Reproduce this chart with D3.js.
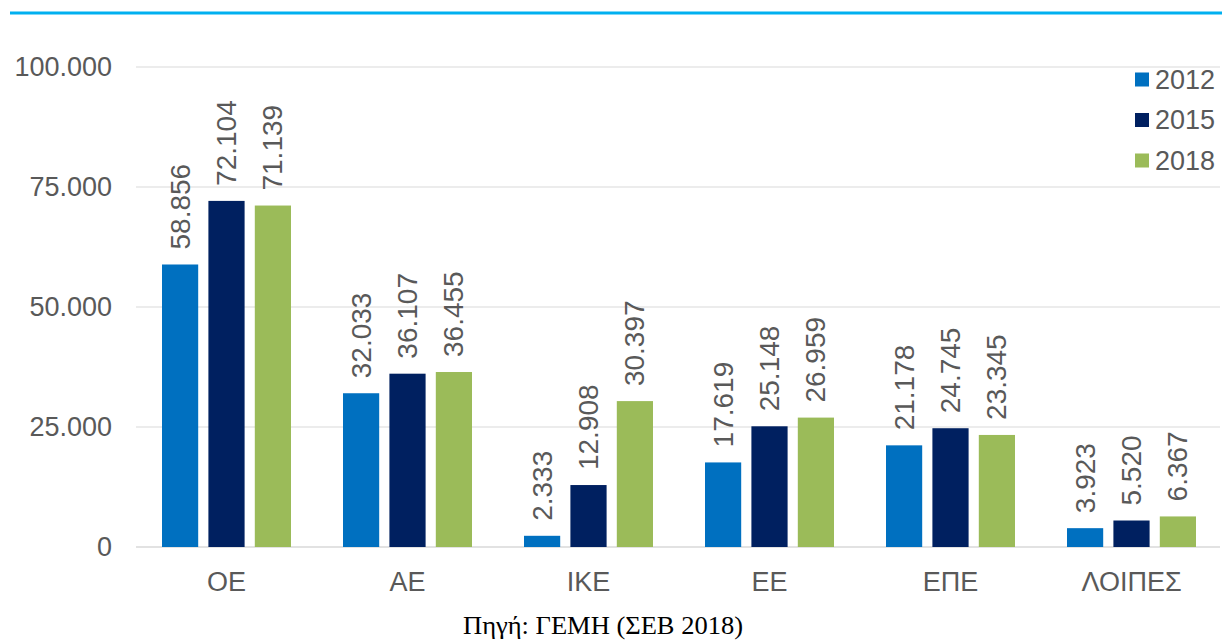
<!DOCTYPE html>
<html>
<head>
<meta charset="utf-8">
<script src="https://cdn.jsdelivr.net/npm/d3@7"></script>
<style>
  body { margin: 0; background: #fff; }
  svg { display: block; }
</style>
</head>
<body>
<div id="chart"></div>
<script>
// Data
const categories = ["ΟΕ", "ΑΕ", "ΙΚΕ", "ΕΕ", "ΕΠΕ", "ΛΟΙΠΕΣ"];
const years = ["2012", "2015", "2018"];
const values2012 = [58856, 32033, 2333, 17619, 21178, 3923];
const values2015 = [72104, 36107, 12908, 25148, 24745, 5520];
const values2018 = [71139, 36455, 30397, 26959, 23345, 6367];
const yTicks = [0, 25000, 50000, 75000, 100000];
const sourceNote = "Πηγή: ΓΕΜΗ (ΣΕΒ 2018)";

const seriesByYear = { "2012": values2012, "2015": values2015, "2018": values2018 };
const colors = { "2012": "#0070c0", "2015": "#002060", "2018": "#9bbb59" };

const width = 1222, height = 641;
const plot = { left: 136, right: 1222, top: 67, bottom: 547 };
const textColor = "#595959";
const font = "'Liberation Sans', Arial, sans-serif";

const greekNum = d3.formatLocale({ decimal: ",", thousands: ".", grouping: [3], currency: ["", "€"] }).format(",d");

const svg = d3.select("#chart").append("svg")
    .attr("width", width)
    .attr("height", height)
    .style("font-family", font);

// Top rule
svg.append("line")
    .attr("x1", 10).attr("x2", width)
    .attr("y1", 13).attr("y2", 13)
    .attr("stroke", "#00b0f0")
    .attr("stroke-width", 3);

// Scales
const x0 = d3.scaleBand().domain(categories).range([plot.left, plot.right]);
const x1 = d3.scaleBand().domain(years)
    .range([26, x0.bandwidth() - 26])
    .paddingInner(0.22);
const y = d3.scaleLinear().domain([0, 100000]).range([plot.bottom, plot.top]);

// Gridlines
svg.append("g")
    .selectAll("line")
    .data(yTicks)
    .join("line")
        .attr("x1", plot.left).attr("x2", plot.right - 2)
        .attr("y1", d => y(d)).attr("y2", d => y(d))
        .attr("stroke", "#d9d9d9")
        .attr("stroke-width", d => d === 0 ? 1.5 : 1);

// Y axis labels
const yAxis = svg.append("g")
    .attr("transform", `translate(${plot.left - 24},0)`)
    .call(d3.axisLeft(y).tickValues(yTicks).tickFormat(greekNum).tickSize(0).tickPadding(0));
yAxis.select(".domain").remove();
yAxis.selectAll("text")
    .attr("fill", textColor)
    .style("font-size", "27px")
    .style("font-family", font);

// X axis labels
const xAxis = svg.append("g")
    .attr("transform", `translate(0,${plot.bottom})`)
    .call(d3.axisBottom(x0).tickSize(0).tickPadding(25));
xAxis.select(".domain").remove();
xAxis.selectAll("text")
    .attr("fill", textColor)
    .style("font-size", "27px")
    .style("font-family", font);

// Bars + labels
const rows = categories.map((c, i) => ({
    cat: c,
    items: years.map(yr => ({ year: yr, value: seriesByYear[yr][i] }))
}));

const groups = svg.append("g")
    .selectAll("g")
    .data(rows)
    .join("g")
        .attr("transform", d => `translate(${x0(d.cat)},0)`);

groups.selectAll("rect")
    .data(d => d.items)
    .join("rect")
        .attr("x", d => x1(d.year))
        .attr("y", d => y(d.value))
        .attr("width", x1.bandwidth())
        .attr("height", d => y(0) - y(d.value))
        .attr("fill", d => colors[d.year]);

groups.selectAll("text.val")
    .data(d => d.items)
    .join("text")
        .attr("class", "val")
        .attr("transform", d => `translate(${x1(d.year) + x1.bandwidth() / 2},${y(d.value) - 15}) rotate(-90)`)
        .attr("dominant-baseline", "central")
        .attr("fill", textColor)
        .style("font-size", "28px")
        .text(d => greekNum(d.value));

// Legend
const legend = svg.append("g")
    .selectAll("g")
    .data(years)
    .join("g")
        .attr("transform", (d, i) => `translate(1135,${79.5 + i * 40.5})`);
legend.append("rect")
    .attr("x", 0).attr("y", -7)
    .attr("width", 14).attr("height", 14)
    .attr("fill", d => colors[d]);
legend.append("text")
    .attr("x", 20).attr("y", 0)
    .attr("dominant-baseline", "central")
    .attr("fill", textColor)
    .style("font-size", "27px")
    .text(d => d);

// Source note
svg.append("text")
    .attr("x", 463).attr("y", 634)
    .attr("textLength", 280)
    .attr("lengthAdjust", "spacingAndGlyphs")
    .attr("fill", "#000")
    .style("font-family", "'Liberation Serif', 'Times New Roman', serif")
    .style("font-size", "25px")
    .text(sourceNote);
</script>
</body>
</html>
